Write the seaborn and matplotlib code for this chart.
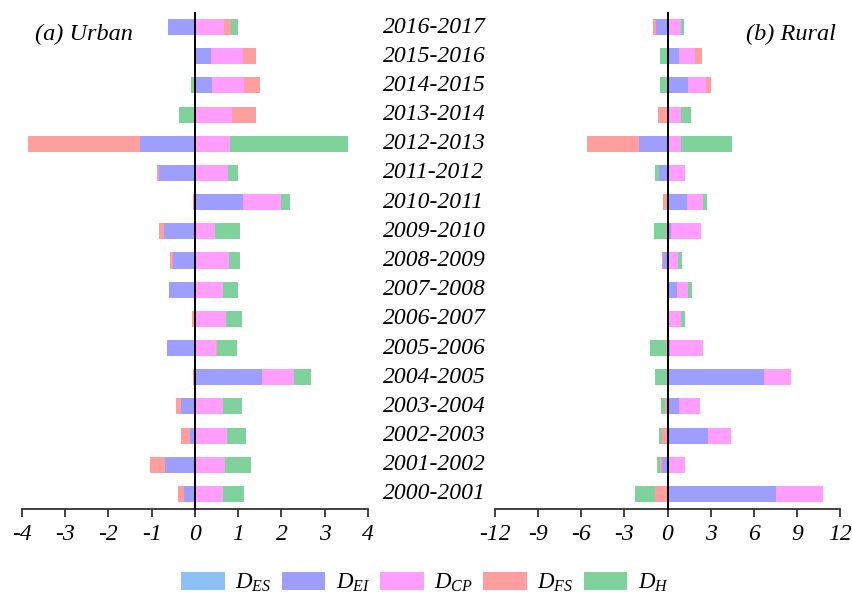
import numpy as np
import pandas as pd
import matplotlib
matplotlib.use("Agg")
import matplotlib.pyplot as plt
import matplotlib.transforms as mtransforms
from matplotlib.patches import Patch
import seaborn as sns

# ---- data (periods listed top to bottom) ----
periods = ["2016-2017", "2015-2016", "2014-2015", "2013-2014", "2012-2013",
           "2011-2012", "2010-2011", "2009-2010", "2008-2009", "2007-2008",
           "2006-2007", "2005-2006", "2004-2005", "2003-2004", "2002-2003",
           "2001-2002", "2000-2001"]

components = ["ES", "EI", "CP", "FS", "H"]
legend_labels = ["$D_{ES}$", "$D_{EI}$", "$D_{CP}$", "$D_{FS}$", "$D_{H}$"]
colors = ["#8EC0F8", "#9E9EFF", "#FF9EFF", "#FF9E9E", "#7FD29B"]

urban_es = [0.0] * 17
urban_ei = [-0.62, 0.37, 0.40, 0.0, -1.28, -0.83, 1.10, -0.72, -0.50, -0.60,
            0.0, -0.64, 1.56, -0.32, -0.12, -0.69, -0.25]
urban_cp = [0.67, 0.75, 0.73, 0.86, 0.81, 0.76, 0.88, 0.46, 0.79, 0.65,
            0.72, 0.48, 0.73, 0.64, 0.74, 0.70, 0.65]
urban_fs = [0.17, 0.29, 0.38, 0.55, -2.59, -0.05, -0.05, -0.11, -0.07, 0.0,
            -0.08, 0.04, -0.04, -0.12, -0.21, -0.35, -0.15]
urban_h = [0.15, -0.02, -0.09, -0.37, 2.72, 0.23, 0.22, 0.58, 0.24, 0.35,
           0.37, 0.46, 0.39, 0.44, 0.45, 0.60, 0.48]

rural_es = [0.0] * 17
rural_ei = [-0.79, 0.81, 1.44, 0.0, -1.95, -0.60, 1.37, 0.26, -0.28, 0.63,
            0.09, 0.14, 6.73, 0.77, 2.83, -0.39, 7.54]
rural_cp = [0.97, 1.09, 1.25, 0.95, 0.93, 1.25, 1.11, 2.06, 0.74, 0.81,
            0.84, 2.30, 1.88, 1.51, 1.62, 1.25, 3.27]
rural_fs = [-0.23, 0.49, 0.35, -0.65, -3.64, 0.0, -0.28, -0.07, -0.09, 0.0,
            0.0, -0.09, 0.0, -0.15, -0.37, -0.12, -0.88]
rural_h = [0.16, -0.51, -0.53, 0.70, 3.57, -0.30, 0.26, -0.86, 0.26, 0.28,
           0.28, -1.11, -0.86, -0.30, -0.21, -0.23, -1.37]

urban_ticks = [-4, -3, -2, -1, 0, 1, 2, 3, 4]
rural_ticks = [-12, -9, -6, -3, 0, 3, 6, 9, 12]

# ---- style ----
sns.set_style("white")
SERIF = ["Liberation Serif", "DejaVu Serif"]
plt.rcParams["font.family"] = SERIF
plt.rcParams["font.style"] = "italic"
plt.rcParams["text.color"] = "black"
plt.rcParams["xtick.color"] = "black"
plt.rcParams["axes.unicode_minus"] = False
plt.rcParams["mathtext.fontset"] = "custom"
plt.rcParams["mathtext.it"] = "Liberation Serif:italic"
plt.rcParams["mathtext.rm"] = "Liberation Serif:italic"

W, H = 852, 601
fig = plt.figure(figsize=(W / 100, H / 100), dpi=100)
fig.patch.set_facecolor("white")


def px_axes(x0, x1, ytop, ybot):
    return fig.add_axes([x0 / W, 1 - ybot / H, (x1 - x0) / W, (ybot - ytop) / H])


ax_u = px_axes(22, 368, 12.5, 508.5)
ax_r = px_axes(495, 840, 12.5, 508.5)


def diverging_stack(ax, series, xlim, ticks):
    df = pd.DataFrame(dict(zip(components, series)), index=periods)
    pos = df.clip(lower=0).cumsum(axis=1)
    neg = df.clip(upper=0).cumsum(axis=1)
    # overlay cumulative totals, outermost first, so each segment shows its own share
    for cum in (pos, neg):
        for comp, col in reversed(list(zip(components, colors))):
            sns.barplot(x=cum[comp].values, y=periods, order=periods, orient="h",
                        color=col, saturation=1, width=0.55, errorbar=None,
                        linewidth=0, ax=ax)
    ax.set_xlim(*xlim)
    ax.set_ylim(16.5, -0.5)
    ax.set_xlabel("")
    ax.set_ylabel("")
    ax.set_facecolor("none")
    for s in ("top", "right"):
        ax.spines[s].set_visible(False)
    ax.spines["left"].set_position(("data", 0))
    ax.spines["left"].set_color("black")
    ax.spines["left"].set_linewidth(1.4)
    ax.spines["left"].set_zorder(5)
    ax.spines["bottom"].set_color("#333333")
    ax.spines["bottom"].set_linewidth(1.3)
    ax.set_yticks(np.arange(-0.5, 17, 1.0))
    ax.set_yticklabels([])
    ax.tick_params(axis="y", direction="inout", length=7, width=1.4, color="black")
    ax.set_xticks(ticks)
    ax.set_xticklabels([str(t) for t in ticks])
    ax.tick_params(axis="x", direction="out", length=6, width=1.3, color="#333333",
                   labelcolor="black", labelsize=17, pad=5, bottom=True)


diverging_stack(ax_u, [urban_es, urban_ei, urban_cp, urban_fs, urban_h], (-4, 4), urban_ticks)
diverging_stack(ax_r, [rural_es, rural_ei, rural_cp, rural_fs, rural_h], (-12, 12), rural_ticks)

# period labels between the two panels
trans = mtransforms.blended_transform_factory(fig.transFigure, ax_u.transData)
for i, p in enumerate(periods):
    fig.text(434 / W, i, p, transform=trans, ha="center", va="center",
             fontsize=17, style="italic", color="black")

fig.text(35 / W, 1 - 34 / H, "(a) Urban", ha="left", va="center", fontsize=17.5,
         style="italic", color="black")
fig.text(836 / W, 1 - 34 / H, "(b) Rural", ha="right", va="center", fontsize=17.5,
         style="italic", color="black")

handles = [Patch(facecolor=c, edgecolor="none") for c in colors]
fig.legend(handles, legend_labels, loc="center", bbox_to_anchor=(425 / W, 1 - 583 / H),
           ncol=5, frameon=False, fontsize=16.5, handlelength=1.9, handleheight=0.85,
           handletextpad=0.45, columnspacing=0.45, borderpad=0, labelcolor="black")

fig.savefig("out.png", dpi=100, facecolor="white")
